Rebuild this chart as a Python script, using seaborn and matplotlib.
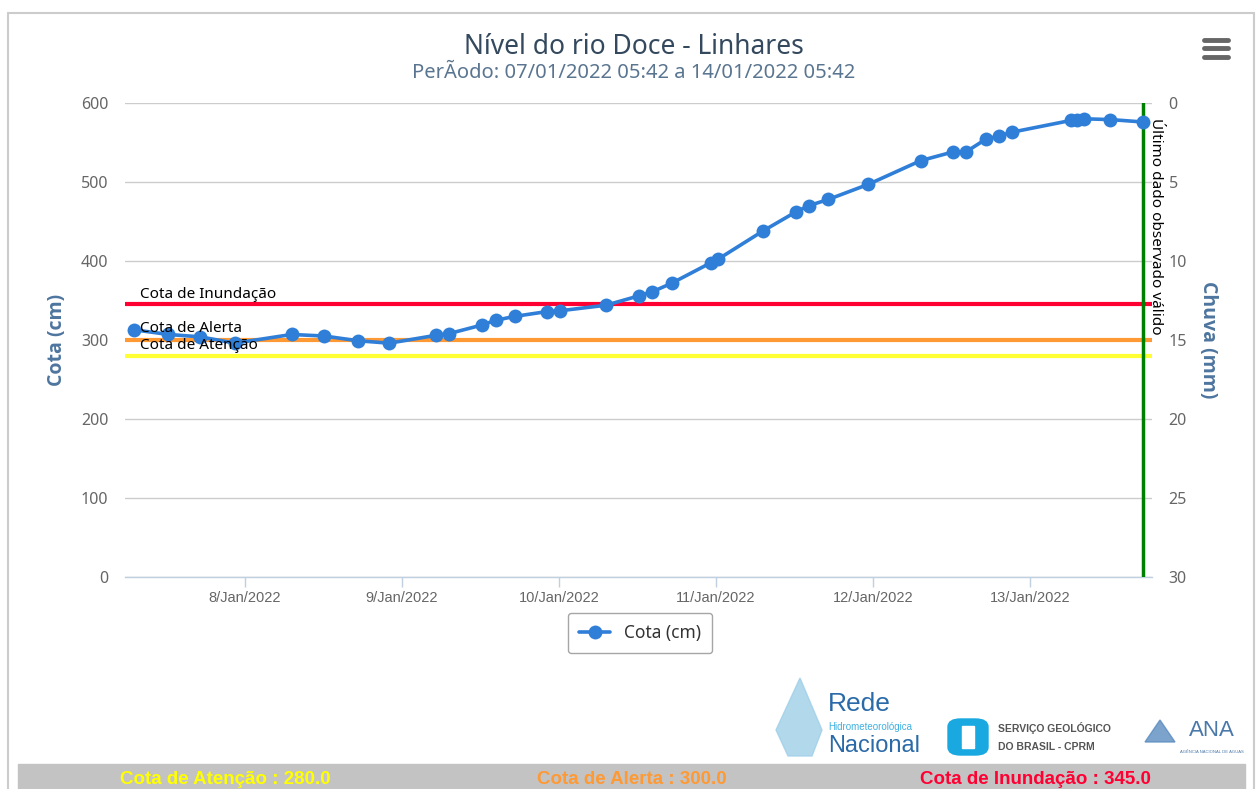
import pandas as pd
import numpy as np
import matplotlib
matplotlib.use('Agg')
import matplotlib.pyplot as plt
import matplotlib.dates as mdates
from matplotlib.lines import Line2D
from matplotlib.patches import Rectangle, FancyBboxPatch, Polygon
from matplotlib.ticker import FuncFormatter
import seaborn as sns

# data
times = ['2022-01-07 07:00', '2022-01-07 12:20', '2022-01-07 17:10', '2022-01-07 22:30',
         '2022-01-08 07:10', '2022-01-08 12:10', '2022-01-08 17:20', '2022-01-08 22:05',
         '2022-01-09 05:15', '2022-01-09 07:10', '2022-01-09 12:15', '2022-01-09 14:20',
         '2022-01-09 17:20', '2022-01-09 22:10', '2022-01-10 00:10', '2022-01-10 07:10',
         '2022-01-10 12:15', '2022-01-10 14:15', '2022-01-10 17:15', '2022-01-10 23:15',
         '2022-01-11 00:15', '2022-01-11 07:10', '2022-01-11 12:10', '2022-01-11 14:10',
         '2022-01-11 17:10', '2022-01-11 23:15', '2022-01-12 07:15', '2022-01-12 12:10',
         '2022-01-12 14:10', '2022-01-12 17:10', '2022-01-12 19:10', '2022-01-12 21:10',
         '2022-01-13 06:15', '2022-01-13 07:05', '2022-01-13 08:15', '2022-01-13 12:15',
         '2022-01-13 17:12']
cota = [313, 307, 304, 296, 307, 305, 299, 296,
        306, 308, 319, 325, 330, 336, 337, 344,
        356, 361, 372, 398, 402, 438, 462, 470,
        478, 497, 527, 538, 538, 554, 558, 563,
        578, 579, 580, 579, 576]

cota_names = ['Cota de Atenção', 'Cota de Alerta', 'Cota de Inundação']
cota_values = [280.0, 300.0, 345.0]
cota_colors = ['#ffff33', '#ff9933', '#ff0033']
cota_text_colors = ['#ffff00', '#ff9933', '#ff0033']

period_start = '2022-01-07 05:42'
period_end = '2022-01-14 05:42'

df = pd.DataFrame({'time': pd.to_datetime(times), 'cota': cota})

sns.set_theme(style='white')
plt.rcParams['font.family'] = ['Noto Sans', 'DejaVu Sans']

W, H = 1259, 789
fig = plt.figure(figsize=(W / 100, H / 100), dpi=100)
ax = fig.add_axes([125 / W, 1 - 577 / H, (1152 - 125) / W, (577 - 103) / H])

line_color = '#2f7ed8'
sns.lineplot(data=df, x='time', y='cota', ax=ax, color=line_color, lw=2.6,
             marker='o', markersize=10, markeredgewidth=0, label='Cota (cm)', zorder=5)

ax.set_ylim(0, 600)
ax.set_yticks(range(0, 601, 100))
x0 = pd.Timestamp(period_start)
x1 = df['time'].iloc[-1] + pd.Timedelta(hours=1.4)
ax.set_xlim(x0, x1)
ax.grid(axis='y', color='#cccccc', lw=1)
ax.grid(axis='x', visible=False)
for s in ['left', 'right', 'top']:
    ax.spines[s].set_visible(False)
ax.spines['bottom'].set_color('#c0d0e0')
ax.spines['bottom'].set_linewidth(1)

ax.xaxis.set_major_locator(mdates.DayLocator())
ax.xaxis.set_major_formatter(FuncFormatter(
    lambda v, p: f"{mdates.num2date(v).day}/{mdates.num2date(v).strftime('%b/%Y')}"))
ax.tick_params(axis='x', length=7, width=1, color='#c0d0e0', pad=3, labelsize=10.5,
               labelcolor='#666666', bottom=True)
for lab in ax.get_xticklabels():
    lab.set_fontfamily('Liberation Sans')
ax.tick_params(axis='y', length=0, pad=12, labelsize=11.5, labelcolor='#666666')
ax.set_xlabel('')
ax.set_ylabel('Cota (cm)', fontsize=14, fontweight='bold', color='#4d759e', labelpad=10,
              family='Open Sans')

# threshold lines with labels
for name, val, col in zip(cota_names, cota_values, cota_colors):
    ax.axhline(val, color=col, lw=3, zorder=3)
for name, val, off in zip(cota_names, cota_values, [7.5, 8, 7]):
    ax.annotate(name, xy=(0, val), xycoords=ax.get_yaxis_transform(),
                xytext=(11, off), textcoords='offset points', ha='left', va='center',
                fontsize=11, color='black', zorder=6)

# last valid observation
last_t = df['time'].iloc[-1]
ax.axvline(last_t, color='#008000', lw=2.5, zorder=4)
ax.annotate('Último dado observado válido', xy=(last_t, 600), xycoords='data',
            xytext=(4, -11), textcoords='offset points', rotation=270,
            ha='left', va='top', fontsize=11, color='black', zorder=6)

# right axis (rain)
ax2 = ax.twinx()
ax2.set_ylim(30, 0)
ax2.set_yticks(range(0, 31, 5))
for s in ['left', 'right', 'top', 'bottom']:
    ax2.spines[s].set_visible(False)
ax2.grid(False)
ax2.tick_params(axis='y', length=0, pad=12, labelsize=11.5, labelcolor='#666666')
ax2.set_ylabel('Chuva (mm)', fontsize=14, fontweight='bold', color='#4d759e',
               rotation=270, labelpad=22, family='Open Sans')

# legend below
ax.legend(loc='center', bbox_to_anchor=(640 / W, 1 - 633 / H), bbox_transform=fig.transFigure,
          frameon=True, fancybox=True, edgecolor='#909090', fontsize=12.5,
          handlelength=1.8, borderpad=0.65, labelcolor='#333333')
leg = ax.get_legend()
leg.get_frame().set_linewidth(1)

# title / subtitle
fig.text(634 / W, 1 - 47 / H, 'Nível do rio Doce - Linhares', ha='center', va='center',
         fontsize=19, color='#34495e')
fig.text(634 / W, 1 - 73 / H,
         f"PerÃodo: {pd.Timestamp(period_start).strftime('%d/%m/%Y %H:%M')} a "
         f"{pd.Timestamp(period_end).strftime('%d/%m/%Y %H:%M')}",
         ha='center', va='center', fontsize=14.5, color='#5a7590')

# outer frame
fig.add_artist(Line2D([8 / W, 8 / W], [0, 1 - 13 / H], color='#cccccc', lw=1.5))
fig.add_artist(Line2D([8 / W, 1254 / W], [1 - 13 / H, 1 - 13 / H], color='#cccccc', lw=1.5))
fig.add_artist(Line2D([1254 / W, 1254 / W], [0, 1 - 13 / H], color='#cccccc', lw=1.5))

# menu icon
for yy in [40, 48, 57]:
    fig.add_artist(Line2D([1204 / W, 1228 / W], [1 - yy / H, 1 - yy / H], color='#666666',
                          lw=3.5, solid_capstyle='round'))

# bottom band with thresholds
fig.add_artist(Rectangle((18 / W, 0), (1245 - 18) / W, (789 - 764) / H,
                         transform=fig.transFigure, color='#c3c3c3', zorder=0))
for name, val, col, cx in zip(cota_names, cota_values, cota_text_colors, [225, 632, 1035]):
    fig.text(cx / W, 1 - 779 / H, f'{name} : {val:.1f}', ha='center', va='center',
             fontsize=13.5, fontweight='bold', color=col, family='Liberation Sans')

# logos (simplified)
fig.add_artist(Polygon([[800 / W, 1 - 678 / H], [822 / W, 1 - 730 / H], [812 / W, 1 - 756 / H],
                        [788 / W, 1 - 756 / H], [776 / W, 1 - 730 / H]],
                       closed=True, transform=fig.transFigure, color='#9fcfe8', alpha=0.8))
fig.text(828 / W, 1 - 704 / H, 'Rede', fontsize=19, color='#2a6aa8', va='center',
         family='Liberation Sans')
fig.text(828 / W, 1 - 727 / H, 'Hidrometeorológica', fontsize=7, color='#3fb0e0',
         va='center', family='Liberation Sans')
fig.text(828 / W, 1 - 746 / H, 'Nacional', fontsize=17, color='#2a6aa8', va='center',
         family='Liberation Sans')
fig.add_artist(FancyBboxPatch((948 / W, 1 - 755 / H), 40 / W, 36 / H,
                              boxstyle='round,pad=0,rounding_size=0.01',
                              transform=fig.transFigure, color='#19a8e0'))
fig.add_artist(Rectangle((962 / W, 1 - 748 / H), 12 / W, 22 / H,
                         transform=fig.transFigure, color='white'))
fig.text(998 / W, 1 - 728 / H, 'SERVIÇO GEOLÓGICO', fontsize=7.5, fontweight='bold',
         color='#555555', va='center', family='Liberation Sans')
fig.text(998 / W, 1 - 747 / H, 'DO BRASIL - CPRM', fontsize=7.5, fontweight='bold',
         color='#555555', va='center', family='Liberation Sans')
fig.add_artist(Polygon([[1145 / W, 1 - 742 / H], [1160 / W, 1 - 720 / H], [1175 / W, 1 - 742 / H]],
                       closed=True, transform=fig.transFigure, color='#5b8cc0', alpha=0.8))
fig.text(1212 / W, 1 - 730 / H, 'ANA', fontsize=16, color='#4a78aa', va='center', ha='center',
         family='Liberation Sans')
fig.text(1212 / W, 1 - 752 / H, 'AGÊNCIA NACIONAL DE ÁGUAS', fontsize=3, color='#4a78aa',
         va='center', ha='center', family='Liberation Sans')

fig.savefig('out.png', dpi=100)
